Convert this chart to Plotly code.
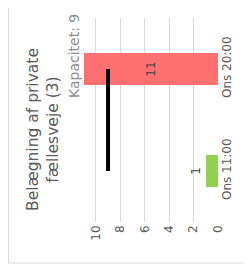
import plotly.graph_objects as go

categories = ["Ons 11:00", "Ons 20:00"]
values = [1, 11]
bar_colors = ["#92D050", "#FF7171"]
capacity = 9
title_lines = ["Belægning af private", "fællesveje (3)"]
subtitle = "Kapacitet: 9"
x_ticks = [0, 2, 4, 6, 8, 10]

FONT = "DejaVu Sans"
# page has an 8px body offset; targets below are in page pixels
OFF = 8
PL, PR, PT, PB = 83, 218, 18, 222

def px_x(p):
    return (p - PL) / (PR - PL)

def px_y(p):
    return (PB - p) / (PB - PT)

fig = go.Figure()
fig.add_trace(go.Bar(
    x=values, y=categories, orientation="h",
    marker=dict(color=bar_colors, line=dict(width=0)),
    width=0.31,
    text=[str(v) for v in values],
    textposition=["outside", "inside"],
    insidetextanchor="middle",
    textangle=-90,
    constraintext="none",
    cliponaxis=False,
    textfont=dict(color="#404040", size=12, family=FONT),
    showlegend=False,
))
fig.add_trace(go.Scatter(
    x=[capacity, capacity], y=[categories[1], categories[0]],
    mode="lines", line=dict(color="black", width=4),
    showlegend=False,
))

fig.update_layout(
    width=252, height=273,
    margin=dict(l=PL - OFF, r=252 - PR + OFF, t=PT - OFF, b=273 - PB + OFF),
    paper_bgcolor="white", plot_bgcolor="white",
    font=dict(family=FONT, color="#595959"),
    bargap=0,
    xaxis=dict(
        range=[11.05, 0], tickvals=x_ticks, tickangle=-90,
        showgrid=True, gridcolor="#D9D9D9", gridwidth=1,
        zeroline=False, showline=False,
        tickfont=dict(size=12, color="#595959", family=FONT), ticks="",
    ),
    yaxis=dict(
        categoryorder="array", categoryarray=categories,
        range=[-0.5, 1.5], side="right", tickangle=-90,
        showgrid=False, zeroline=False, showline=False,
        tickfont=dict(size=12, color="#595959", family=FONT), ticks="",
    ),
    shapes=[dict(type="rect", xref="paper", yref="paper",
                 x0=px_x(8.5), x1=1.6, y0=px_y(263), y1=1.3,
                 line=dict(color="#D9D9D9", width=1), fillcolor="rgba(0,0,0,0)",
                 layer="below")],
    annotations=[
        dict(text="<br>".join(title_lines), textangle=-90,
             xref="paper", yref="paper",
             x=px_x(43), y=px_y(130),
             xanchor="center", yanchor="middle", showarrow=False,
             font=dict(size=15.5, color="#595959", family=FONT)),
        dict(text=subtitle, textangle=-90,
             xref="paper", yref="paper",
             x=px_x(74), y=px_y(56),
             xanchor="center", yanchor="middle", showarrow=False,
             font=dict(size=14, color="#8C8C8C", family=FONT)),
    ],
)

fig.write_html("out.html")
